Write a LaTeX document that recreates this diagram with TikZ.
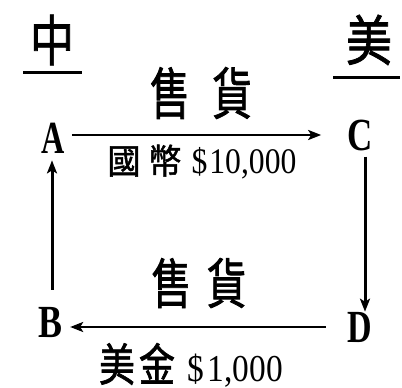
\documentclass[tikz,border=0pt]{standalone}
\usepackage{fontspec}
\usetikzlibrary{arrows.meta}
\newfontfamily\cjk[FakeBold=1.5]{Noto Sans CJK TC}
\newfontfamily\lat{Liberation Serif}
\begin{document}
\begin{tikzpicture}[x=1pt,y=1pt,
  letter/.style={inner sep=0pt, font=\lat\bfseries\fontsize{46}{46}\selectfont},
  lbl/.style={inner sep=0pt},
  flow/.style={line width=2.4pt, -{Stealth[length=13pt,width=10pt,inset=3pt]}},
  vflow/.style={line width=3pt, -{Stealth[length=13pt,width=10pt,inset=3pt]}},
  uline/.style={line width=3pt}]
\useasboundingbox (0,0) rectangle (402,388);
% country headings
\node[lbl] (zhong) at (52,348) {\cjk\fontsize{44}{44}\selectfont\scalebox{1}[1.25]{中}};
\node[lbl] (mei) at (369,348) {\cjk\fontsize{46}{46}\selectfont\scalebox{1}[1.18]{美}};
\coordinate (u1a) at (23,315); \coordinate (u1b) at (82,315);
\coordinate (u2a) at (333,310); \coordinate (u2b) at (400,310);
\draw[uline] (u1a) -- (u1b);
\draw[uline] (u2a) -- (u2b);
% corner letters
\node[letter] (A) at (53,250) {\scalebox{0.7}[1]{A}};
\node[letter] (C) at (360,252) {\scalebox{0.76}[1]{C}};
\node[letter] (B) at (50,65) {\scalebox{0.78}[1]{B}};
\node[letter] (D) at (360,61) {\scalebox{0.74}[1]{D}};
% labels
\node[lbl] (top1) at (201,295) {\cjk\fontsize{40}{40}\selectfont\scalebox{1}[1.4]{售\hspace{22pt}貨}};
\node[lbl] (top2) at (202,226) {{\cjk\fontsize{33}{33}\selectfont\scalebox{1}[1.05]{國\hspace{8pt}幣}}\hspace{10pt}{\lat\fontsize{36}{36}\selectfont\scalebox{0.88}[1]{\$}\hspace{2pt}\scalebox{0.88}[1]{10,000}}};
\node[lbl] (bot1) at (199,105) {\cjk\fontsize{40}{40}\selectfont\scalebox{1}[1.35]{售\hspace{15pt}貨}};
\node[lbl] (bot2) at (191,23) {{\cjk\fontsize{36}{36}\selectfont\scalebox{1}[1.25]{美\hspace{4pt}金}}\hspace{12pt}{\lat\fontsize{38}{38}\selectfont\scalebox{0.88}[1]{\$}\hspace{4pt}\scalebox{0.88}[1]{1,000}}};
% flows
\draw[flow, shorten <=7pt, shorten >=26pt] ([yshift=3pt]A.east) -- ([yshift=1pt]C.west);
\draw[vflow, shorten <=5pt] ([xshift=5pt]C.south) -- ([xshift=5pt]D.north);
\draw[flow, shorten <=22pt, shorten >=8pt] (D.west) -- ([yshift=-4pt]B.east);
\draw[vflow, shorten <=18pt, shorten >=7pt] ([xshift=2pt]B.north) -- ([xshift=-1pt]A.south);
\end{tikzpicture}
\end{document}
